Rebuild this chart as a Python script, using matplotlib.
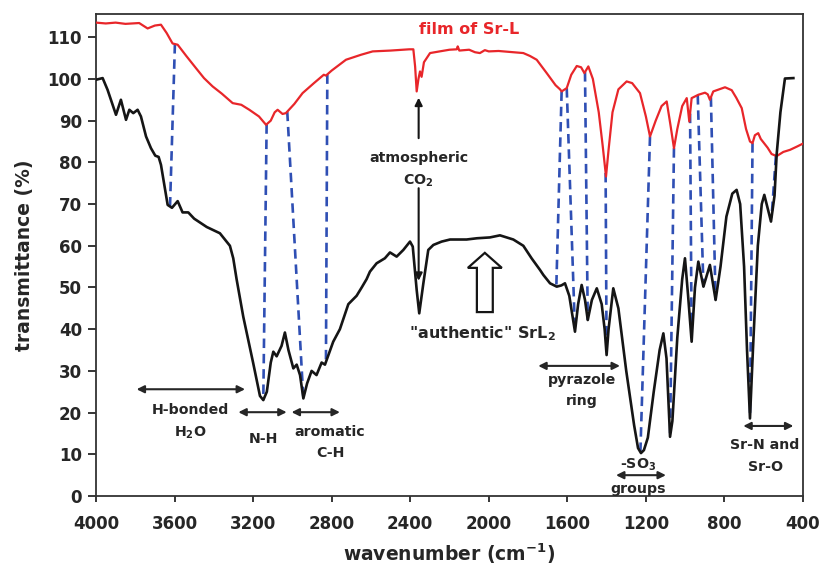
import numpy as np
import matplotlib
matplotlib.use('Agg')
import matplotlib.pyplot as plt
from matplotlib.patches import FancyArrow

plt.rcParams['font.family'] = ['DejaVu Sans']
plt.rcParams['font.weight'] = 'bold'
plt.rcParams['axes.labelweight'] = 'bold'
plt.rcParams['mathtext.default'] = 'bf'

# ---- spectra (wavenumber cm-1, transmittance %) ----
black_wn = [4000, 3966, 3941, 3915, 3898, 3873, 3847, 3830, 3810, 3788, 3771, 3745, 3720,
            3698, 3681, 3669, 3652, 3635, 3613, 3584, 3559, 3530, 3500, 3436, 3369, 3318,
            3301, 3284, 3250, 3200, 3165, 3148, 3130, 3110, 3097, 3080, 3055, 3038, 3020,
            2995, 2978, 2961, 2944, 2925, 2902, 2877, 2851, 2834, 2792, 2758, 2715, 2673,
            2647, 2622, 2605, 2571, 2529, 2503, 2469, 2435, 2401, 2387, 2367, 2354, 2333,
            2308, 2282, 2240, 2197, 2113, 2060, 1994, 1943, 1875, 1824, 1782, 1739, 1722,
            1688, 1654, 1630, 1612, 1590, 1561, 1545, 1527, 1510, 1496, 1475, 1450, 1425,
            1410, 1400, 1390, 1366, 1340, 1300, 1260, 1240, 1225, 1210, 1190, 1160, 1130,
            1111, 1095, 1077, 1065, 1040, 1015, 1001, 985, 967, 950, 933, 907, 874, 845,
            820, 790, 760, 738, 720, 700, 685, 670, 655, 630, 610, 597, 580, 563, 545, 534,
            515, 492, 449]
black_t = [99.8, 100.2, 97.4, 93.8, 91.4, 95.0, 90.2, 92.6, 91.8, 92.6, 91.0, 86.2, 83.4,
           81.6, 81.3, 79.4, 74.6, 69.8, 69.1, 70.7, 68.0, 68.0, 66.5, 64.5, 63.0, 60.0,
           57.0, 52.0, 43.0, 32.0, 24.0, 23.0, 25.0, 32.0, 34.6, 33.5, 36.0, 39.2, 35.0,
           30.6, 31.5, 29.0, 23.4, 27.0, 30.0, 29.0, 32.0, 31.5, 37.0, 40.0, 46.0, 48.0,
           50.0, 52.0, 53.8, 55.8, 57.0, 58.4, 57.4, 59.0, 61.0, 59.8, 49.4, 43.8, 51.0,
           59.0, 60.2, 61.0, 61.5, 61.5, 61.8, 62.0, 62.5, 61.5, 60.0, 57.0, 54.2, 53.0,
           51.0, 50.2, 50.5, 51.0, 48.0, 39.4, 46.0, 50.6, 47.0, 42.2, 47.0, 49.8, 46.0,
           40.0, 33.8, 40.0, 49.8, 45.0, 30.0, 17.0, 11.5, 10.3, 11.0, 14.0, 25.0, 35.0,
           39.0, 33.0, 14.2, 18.0, 38.0, 52.0, 57.0, 48.0, 37.0, 50.0, 56.2, 50.2, 55.4, 47.0,
           55.0, 67.0, 72.5, 73.4, 70.0, 55.0, 35.0, 18.6, 35.0, 60.0, 70.0, 72.2, 69.0, 65.8,
           72.0, 82.0, 92.0, 100.1, 100.2]

red_wn = [4000, 3950, 3900, 3850, 3780, 3737, 3700, 3669, 3640, 3610, 3584, 3540, 3491,
          3450, 3406, 3360, 3304, 3260, 3219, 3170, 3134, 3110, 3090, 3075, 3050, 3033,
          2990, 2948, 2890, 2840, 2829, 2800, 2727, 2650, 2591, 2500, 2405, 2384, 2375,
          2367, 2358, 2350, 2342, 2330, 2299, 2250, 2200, 2163, 2158, 2150, 2100, 2070,
          2045, 2020, 2000, 1950, 1900, 1824, 1790, 1756, 1705, 1660, 1637, 1629, 1603,
          1580, 1552, 1530, 1513, 1493, 1470, 1440, 1420, 1403, 1390, 1370, 1340, 1298,
          1270, 1230, 1200, 1179, 1150, 1120, 1094, 1075, 1057, 1040, 1015, 992, 979, 967,
          933, 899, 885, 874, 857, 797, 763, 740, 712, 690, 670, 657, 645, 628, 615, 580,
          560, 534, 500, 466, 430, 400]
red_t = [113.5, 113.3, 113.5, 113.2, 113.4, 112.1, 112.8, 113.0, 111.0, 108.5, 108.2, 105.5,
         102.6, 100.2, 98.2, 96.5, 94.2, 93.8, 92.6, 91.0, 89.0, 90.0, 92.0, 92.6, 91.6,
         91.8, 94.0, 96.6, 99.0, 101.0, 100.8, 102.0, 104.6, 105.8, 106.6, 106.8, 107.1,
         107.1, 103.0, 97.0, 100.0, 101.8, 100.5, 104.0, 106.2, 106.6, 107.0, 107.1, 107.8,
         106.8, 107.0, 106.4, 106.2, 106.9, 106.6, 106.7, 106.5, 106.2, 105.5, 104.6, 101.4,
         98.5, 97.5, 97.0, 97.8, 101.0, 103.1, 102.8, 101.4, 103.0, 100.0, 92.0, 84.0, 76.6,
         83.0, 92.0, 97.5, 99.4, 99.0, 96.6, 91.0, 86.2, 90.0, 93.5, 94.6, 89.0, 83.4, 88.0,
         93.5, 95.4, 89.8, 95.4, 96.2, 96.7, 96.3, 95.0, 97.0, 98.0, 97.3, 95.5, 93.0, 88.0,
         85.0, 84.6, 86.5, 87.0, 85.6, 83.5, 82.0, 81.5, 82.5, 83.0, 83.8, 84.5]

# band positions joined by the blue dashed lines (red film peak, SrL2 peak)
red_peaks = [3598, 3131, 3026, 2822, 1629, 1603, 1510, 1405, 1179, 1057, 975, 936, 869, 657, 538]
black_peaks = [3623, 3148, 2944, 2829, 1656, 1561, 1496, 1400, 1228, 1077, 967, 907, 845, 670, 560]

x_ticks = [4000, 3600, 3200, 2800, 2400, 2000, 1600, 1200, 800, 400]
y_ticks = list(range(0, 111, 10))

# band assignment ranges: (label, start, end, arrow level)
ranges = [
    ('H-bonded', 3793, 3241, 25.6),
    ('N-H', 3275, 3029, 20.1),
    ('aromatic', 3004, 2758, 20.1),
    ('pyrazole', 1748, 1332, 31.2),
    ('SO3', 1352, 1098, 5.0),
    ('Sr-N', 704, 449, 16.8),
]

RED = '#e8262a'
BLUE = '#2f4fb4'
INK = '#151515'
TXT = '#262626'


def curve_at(wn, xs, ys):
    return np.interp(wn, xs[::-1], ys[::-1])


fig = plt.figure(figsize=(8.23, 5.71), dpi=100)
ax = fig.add_axes([0.1166, 0.1313, 0.8591, 0.8437])

bw = np.array(black_wn, float)
bt = np.array(black_t, float)
rw = np.array(red_wn, float)
rt = np.array(red_t, float)

for rp, bp in zip(red_peaks, black_peaks):
    ax.plot([rp, bp], [curve_at(rp, rw, rt), curve_at(bp, bw, bt)],
            color=BLUE, lw=1.9, ls=(0, (3.6, 2.2)), zorder=2)

ax.plot(rw, rt, color=RED, lw=1.6, zorder=3)
ax.plot(bw, bt, color=INK, lw=1.9, zorder=3)

ax.set_xlim(4000, 400)
ax.set_ylim(0, 115.5)
ax.set_xticks(x_ticks)
ax.set_yticks(y_ticks)
ax.tick_params(axis='x', direction='out', length=4.5, width=1.3, pad=9,
               labelsize=12, colors=TXT)
ax.tick_params(axis='y', direction='out', length=6, width=1.3, pad=4,
               labelsize=12, colors=TXT)
for s in ax.spines.values():
    s.set_linewidth(1.3)
    s.set_color('#333333')

ax.set_xlabel('wavenumber (cm$^{-1}$)', fontsize=13.5, color=TXT, labelpad=6)
ax.set_ylabel('transmittance (%)', fontsize=13.5, color=TXT, labelpad=10)

# double headed range arrows
for _, x1, x2, y in ranges:
    ax.annotate('', xy=(x2, y), xytext=(x1, y),
                arrowprops=dict(arrowstyle='<|-|>', color=TXT, lw=1.5,
                                mutation_scale=11, shrinkA=0, shrinkB=0))

fs = 10.2
ax.text(3518, 20.6, 'H-bonded', ha='center', va='center', fontsize=fs, color=TXT)
ax.text(3518, 15.1, 'H$_2$O', ha='center', va='center', fontsize=fs, color=TXT)
ax.text(3148, 13.6, 'N-H', ha='center', va='center', fontsize=fs, color=TXT)
ax.text(2808, 15.4, 'aromatic', ha='center', va='center', fontsize=fs, color=TXT)
ax.text(2808, 10.4, 'C-H', ha='center', va='center', fontsize=fs, color=TXT)
ax.text(1527, 27.8, 'pyrazole', ha='center', va='center', fontsize=fs, color=TXT)
ax.text(1527, 22.9, 'ring', ha='center', va='center', fontsize=fs, color=TXT)
ax.text(1238, 7.4, '-SO$_3$', ha='center', va='center', fontsize=fs, color=TXT)
ax.text(1238, 1.8, 'groups', ha='center', va='center', fontsize=fs, color=TXT)
ax.text(593, 12.2, 'Sr-N and', ha='center', va='center', fontsize=fs, color=TXT)
ax.text(593, 7.0, 'Sr-O', ha='center', va='center', fontsize=fs, color=TXT)

# atmospheric CO2
ax.text(2357, 81.0, 'atmospheric', ha='center', va='center', fontsize=fs, color=TXT)
ax.text(2357, 75.6, 'CO$_2$', ha='center', va='center', fontsize=fs, color=TXT)
ax.annotate('', xy=(2357, 95.5), xytext=(2357, 85.8),
            arrowprops=dict(arrowstyle='-|>', color=INK, lw=1.5,
                            mutation_scale=11, shrinkA=0, shrinkB=0))
ax.annotate('', xy=(2357, 51.6), xytext=(2357, 73.8),
            arrowprops=dict(arrowstyle='-|>', color=INK, lw=1.5,
                            mutation_scale=11, shrinkA=0, shrinkB=0))

# hollow arrow pointing at the "authentic" spectrum
ax.add_patch(FancyArrow(2020, 44.1, 0, 14.2, width=81, head_width=173, head_length=3.6,
                        length_includes_head=True, fc='white', ec=INK, lw=1.6, zorder=4))
ax.text(2034, 39.0, '"authentic" SrL$_2$', ha='center', va='center', fontsize=11.5, color=TXT)

ax.text(2101, 111.8, 'film of Sr-L', ha='center', va='center', fontsize=11.5, color=RED)

fig.savefig('out.png', dpi=100)
